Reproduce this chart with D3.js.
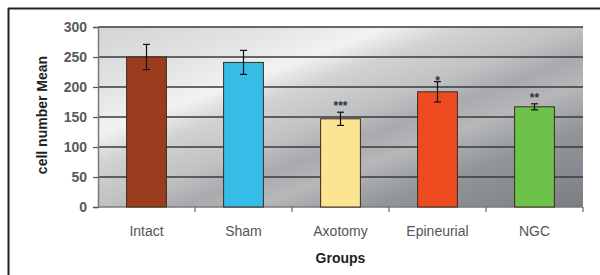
<!DOCTYPE html>
<html>
<head>
<meta charset="utf-8">
<script src="https://cdn.jsdelivr.net/npm/d3@7"></script>
<style>
  body { margin: 0; background: #fff; }
  svg { display: block; }
</style>
</head>
<body>
<div id="chart"></div>
<script>
// data
var groups = ["Intact", "Sham", "Axotomy", "Epineurial", "NGC"];
var means = [250, 241, 147, 192, 167];
var errors = [21, 20, 11, 17, 5];
var marks = ["", "", "***", "*", "**"];
var barColors = ["#9c3c1e", "#35bde8", "#fbe592", "#ef4b20", "#6dc24b"];
var yTicks = [0, 50, 100, 150, 200, 250, 300];

var W = 600, H = 275;
var margin = { top: 27, right: 17, bottom: 68, left: 98 },
  width = W - margin.left - margin.right,
  height = H - margin.top - margin.bottom;

var svg = d3.select("#chart").append("svg").attr("width", W).attr("height", H);

// outer frame (only top and left are inside the picture)
svg.append("line").attr("x1", 8).attr("x2", W).attr("y1", 8.5).attr("y2", 8.5)
  .attr("stroke", "#222").attr("stroke-width", 2);
svg.append("line").attr("x1", 8.5).attr("x2", 8.5).attr("y1", 8).attr("y2", H)
  .attr("stroke", "#222").attr("stroke-width", 2);

// streaky grey background
var defs = svg.append("defs");
var grad = defs.append("linearGradient").attr("id", "bg")
  .attr("x1", "0%").attr("y1", "0%").attr("x2", "100%").attr("y2", "100%");
[[0, "#d3d4d6"], [0.18, "#e2e3e4"], [0.3, "#f2f2f2"], [0.38, "#d1d2d4"],
 [0.5, "#c0c1c3"], [0.58, "#a8aaad"], [0.66, "#b5b7b9"], [0.78, "#939699"],
 [1, "#7a7d82"]].forEach(function (s) {
  grad.append("stop").attr("offset", s[0]).attr("stop-color", s[1]);
});

var g = svg.append("g").attr("transform", "translate(" + margin.left + "," + margin.top + ")");

g.append("rect").attr("width", width).attr("height", height).attr("fill", "url(#bg)");

var x = d3.scaleBand().domain(groups).range([0, width]).paddingInner(0.59).paddingOuter(0.295);
var xb = d3.scaleBand().domain(groups).range([0, width]);
var y = d3.scaleLinear().domain([0, 300]).range([height, 0]);

// gridlines
g.append("g").selectAll("line").data(yTicks.slice(1)).enter().append("line")
  .attr("x1", 0).attr("x2", width)
  .attr("y1", function (d) { return y(d); }).attr("y2", function (d) { return y(d); })
  .attr("stroke", "#3a3a3c").attr("stroke-width", 1.4);

// Y axis
var yAxis = g.append("g").call(d3.axisLeft(y).tickValues(yTicks).tickSize(5).tickPadding(6));
yAxis.select(".domain").attr("stroke", "#7a7a7a").attr("stroke-width", 1.5);
yAxis.selectAll(".tick line").attr("stroke", "#555").attr("stroke-width", 1.2);
yAxis.selectAll("text").attr("fill", "#5a5a5a").style("font-size", "14px").style("font-weight", "bold")
  .style("font-family", "'Liberation Sans Narrow', 'Arial Narrow', sans-serif");

// X axis with ticks between the groups
var xAxisG = g.append("g").attr("transform", "translate(0," + height + ")");
xAxisG.append("line").attr("x1", 0).attr("x2", width).attr("stroke", "#7a7a7a").attr("stroke-width", 1.5);
xAxisG.selectAll(".sep").data(groups).enter().append("line")
  .attr("x1", function (d) { return xb(d) + xb.bandwidth(); })
  .attr("x2", function (d) { return xb(d) + xb.bandwidth(); })
  .attr("y1", 0).attr("y2", 5).attr("stroke", "#666").attr("stroke-width", 1.2);
xAxisG.selectAll(".lbl").data(groups).enter().append("text")
  .attr("x", function (d) { return xb(d) + xb.bandwidth() / 2; })
  .attr("y", 29).attr("text-anchor", "middle")
  .attr("fill", "#555").style("font-size", "14px")
  .style("font-family", "Arial, 'Liberation Sans', sans-serif")
  .text(function (d) { return d; });

// bars
g.append("g").selectAll("rect").data(groups).enter().append("rect")
  .attr("x", function (d) { return x(d); })
  .attr("y", function (d, i) { return y(means[i]); })
  .attr("width", x.bandwidth())
  .attr("height", function (d, i) { return height - y(means[i]); })
  .attr("fill", function (d, i) { return barColors[i]; })
  .attr("stroke", "#3a2a1a").attr("stroke-width", 1);

// error bars
var eb = g.append("g").selectAll("g").data(groups).enter().append("g")
  .attr("stroke", "#111").attr("stroke-width", 1.2);
eb.append("line")
  .attr("x1", function (d) { return x(d) + x.bandwidth() / 2; })
  .attr("x2", function (d) { return x(d) + x.bandwidth() / 2; })
  .attr("y1", function (d, i) { return y(means[i] + errors[i]); })
  .attr("y2", function (d, i) { return y(means[i] - errors[i]); });
[1, -1].forEach(function (sgn) {
  eb.append("line")
    .attr("x1", function (d) { return x(d) + x.bandwidth() / 2 - 3.5; })
    .attr("x2", function (d) { return x(d) + x.bandwidth() / 2 + 3.5; })
    .attr("y1", function (d, i) { return y(means[i] + sgn * errors[i]); })
    .attr("y2", function (d, i) { return y(means[i] + sgn * errors[i]); });
});

// significance stars
g.append("g").selectAll("text").data(groups).enter().append("text")
  .attr("x", function (d) { return x(d) + x.bandwidth() / 2; })
  .attr("y", function (d, i) { return y(means[i] + errors[i]) + (i == 3 ? 3 : -2); })
  .attr("text-anchor", "middle").attr("fill", "#333")
  .style("font-size", (function () { return "12px"; })()).style("font-weight", "bold")
  .style("font-family", "Arial, sans-serif")
  .text(function (d, i) { return marks[i]; });

// axis titles
svg.append("text").attr("transform", "translate(47,115) rotate(-90)")
  .attr("text-anchor", "middle").attr("fill", "#222")
  .style("font-size", "14px").style("font-weight", "bold")
  .style("font-family", "Arial, 'Liberation Sans', sans-serif")
  .text("cell number Mean");
svg.append("text").attr("x", margin.left + width / 2).attr("y", 263)
  .attr("text-anchor", "middle").attr("fill", "#222")
  .style("font-size", "14px").style("font-weight", "bold")
  .style("font-family", "Arial, 'Liberation Sans', sans-serif")
  .text("Groups");
</script>
</body>
</html>
